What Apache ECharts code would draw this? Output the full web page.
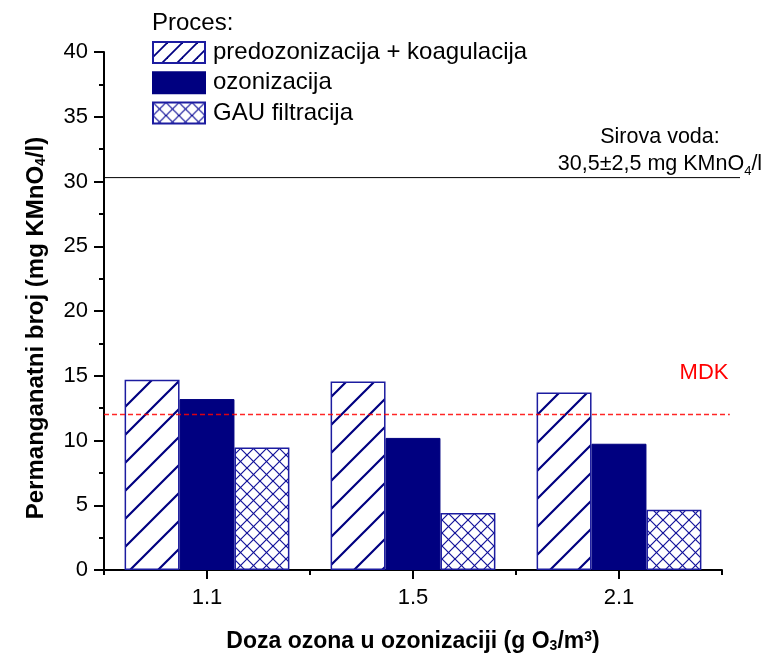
<!DOCTYPE html>
<html>
<head>
<meta charset="utf-8">
<script src="https://cdn.jsdelivr.net/npm/echarts@6/dist/echarts.min.js"></script>
<style>
html, body { margin: 0; padding: 0; background: #fff; }
#chart { width: 767px; height: 659px; }
</style>
</head>
<body>
<div id="chart"></div>
<script>
// Ozone dose categories (g O3/m3)
const categories = ['1.1', '1.5', '2.1'];
const seriesNames = ['predozonizacija + koagulacija', 'ozonizacija', 'GAU filtracija'];

// Permanganate index after each treatment step (mg KMnO4/l)
const predozonizacija = [14.7, 14.55, 13.7];
const ozonizacija = [13.2, 10.2, 9.75];
const gauFiltracija = [9.45, 4.4, 4.65];

// Y axis range
const yMin = 0, yMax = 40, yInterval = 5;

// Reference levels
const mdk = 12;          // maximum allowed concentration
const sirovaVoda = 30.3; // raw water

// Horizontal extent of the reference lines, as a fraction of the annotation layer
const sirovaSpan = [0, 1];
const mdkSpan = [0, 0.984];

const FONT = '"Liberation Sans", Arial, Helvetica, sans-serif';
const NAVY = '#000080';
const EDGE = '#1c1ca0';

// Tile with 45-degree hatch lines; "cross" adds the opposite diagonal as well
function hatchTile(size, lineWidth, color, cross) {
  const c = document.createElement('canvas');
  c.width = size;
  c.height = size;
  const ctx = c.getContext('2d');
  ctx.fillStyle = '#ffffff';
  ctx.fillRect(0, 0, size, size);
  ctx.strokeStyle = color;
  ctx.lineWidth = lineWidth;
  ctx.lineCap = 'square';
  for (let k = -1; k <= 1; k++) {
    ctx.beginPath();
    ctx.moveTo(k * size, size);
    ctx.lineTo(k * size + size, 0);
    ctx.stroke();
    if (cross) {
      ctx.beginPath();
      ctx.moveTo(k * size, 0);
      ctx.lineTo(k * size + size, size);
      ctx.stroke();
    }
  }
  return { image: c, repeat: 'repeat' };
}

const hatchBar = hatchTile(28, 2.2, NAVY, false);
const hatchLegend = hatchTile(15, 1.8, NAVY, false);
const crossBar = hatchTile(13, 1.2, '#12129a', true);
const crossLegend = hatchTile(13, 1.2, '#12129a', true);

const subRich = {
  sub: { fontSize: 13, fontFamily: FONT, verticalAlign: 'bottom', lineHeight: 4, color: '#000' },
  sup: { fontSize: 13, fontFamily: FONT, verticalAlign: 'top', lineHeight: 4, color: '#000' }
};
const subRichBold = {
  sub: { fontSize: 14, fontWeight: 'bold', fontFamily: FONT, verticalAlign: 'bottom', lineHeight: 4, color: '#000' },
  sup: { fontSize: 14, fontWeight: 'bold', fontFamily: FONT, verticalAlign: 'top', lineHeight: 4, color: '#000' }
};

const chart = echarts.init(document.getElementById('chart'), null, { renderer: 'canvas' });

const option = {
  backgroundColor: '#ffffff',
  animation: false,
  textStyle: { fontFamily: FONT },
  grid: [
    { left: 104, top: 52, width: 618, height: 518, containLabel: false },
    { left: 104, top: 52, width: 636, height: 518, containLabel: false }
  ],
  legend: {
    orient: 'vertical',
    left: 152,
    top: 40.5,
    padding: 0,
    itemWidth: 52,
    itemHeight: 21,
    itemGap: 6.25,
    icon: 'rect',
    selectedMode: false,
    data: [
      { name: seriesNames[0], itemStyle: { color: hatchLegend } },
      { name: seriesNames[1] },
      { name: seriesNames[2], itemStyle: { color: crossLegend } }
    ],
    textStyle: { fontSize: 24, lineHeight: 24, fontFamily: FONT, color: '#000', padding: [0, 0, 0, 3] }
  },
  xAxis: [
    {
      type: 'category',
      gridIndex: 0,
      data: categories,
      boundaryGap: true,
      axisLine: { show: true, lineStyle: { color: '#000', width: 2 } },
      axisTick: { show: true, alignWithLabel: true, length: 9, lineStyle: { color: '#000', width: 2 } },
      axisLabel: { fontSize: 22, fontFamily: FONT, color: '#000', margin: 17 },
      splitLine: { show: false },
      name: 'Doza ozona u ozonizaciji (g O{sub|3}/m{sup|3})',
      nameLocation: 'middle',
      nameGap: 60,
      nameTextStyle: { fontSize: 23, fontWeight: 'bold', fontFamily: FONT, color: '#000', rich: subRichBold }
    },
    {
      type: 'category',
      gridIndex: 0,
      data: categories,
      position: 'bottom',
      boundaryGap: true,
      axisLine: { show: false },
      axisTick: { show: true, alignWithLabel: false, length: 5, lineStyle: { color: '#000', width: 2 } },
      axisLabel: { show: false },
      splitLine: { show: false }
    },
    { type: 'value', gridIndex: 1, min: 0, max: 1, show: false }
  ],
  yAxis: [
    {
      type: 'value',
      gridIndex: 0,
      min: yMin,
      max: yMax,
      interval: yInterval,
      axisLine: { show: true, lineStyle: { color: '#000', width: 2 } },
      axisTick: { show: true, length: 10, lineStyle: { color: '#000', width: 2 } },
      minorTick: { show: true, splitNumber: 2, length: 5, lineStyle: { color: '#000', width: 2 } },
      axisLabel: { fontSize: 22, fontFamily: FONT, color: '#000', margin: 16 },
      splitLine: { show: false }
    },
    { type: 'value', gridIndex: 1, min: yMin, max: yMax, show: false }
  ],
  series: [
    {
      type: 'bar',
      name: seriesNames[0],
      xAxisIndex: 0, yAxisIndex: 0,
      data: predozonizacija,
      barGap: '0%',
      barCategoryGap: '20%',
      itemStyle: { color: hatchBar, borderColor: EDGE, borderWidth: 1.5 }
    },
    {
      type: 'bar',
      name: seriesNames[1],
      xAxisIndex: 0, yAxisIndex: 0,
      data: ozonizacija,
      barGap: '0%',
      barCategoryGap: '20%',
      itemStyle: { color: NAVY, borderColor: NAVY, borderWidth: 1 }
    },
    {
      type: 'bar',
      name: seriesNames[2],
      xAxisIndex: 0, yAxisIndex: 0,
      data: gauFiltracija,
      barGap: '0%',
      barCategoryGap: '20%',
      itemStyle: { color: crossBar, borderColor: EDGE, borderWidth: 1.5 }
    },
    {
      type: 'line',
      name: 'Sirova voda',
      xAxisIndex: 2, yAxisIndex: 1,
      data: sirovaSpan.map(x => [x, sirovaVoda]),
      symbol: 'none',
      silent: true,
      z: 5,
      lineStyle: { color: '#000', width: 1 }
    },
    {
      type: 'line',
      name: 'MDK',
      xAxisIndex: 2, yAxisIndex: 1,
      data: mdkSpan.map(x => [x, mdk]),
      symbol: 'none',
      silent: true,
      z: 5,
      lineStyle: { color: 'rgba(255,0,0,0.85)', width: 1.5, type: [5, 3] }
    }
  ],
  graphic: [
    {
      type: 'text', x: 152, y: 23, silent: true,
      style: { text: 'Proces:', fontSize: 24, fontFamily: FONT, fill: '#000', align: 'left', verticalAlign: 'middle' }
    },
    {
      type: 'text', x: 704, y: 373, silent: true,
      style: { text: 'MDK', fontSize: 22, fontFamily: FONT, fill: '#ff0000', align: 'center', verticalAlign: 'middle' }
    },
    {
      type: 'text', x: 660, y: 151, silent: true,
      style: {
        text: 'Sirova voda:\n30,5±2,5 mg KMnO{sub|4}/l',
        fontSize: 21.5, fontFamily: FONT, fill: '#000', lineHeight: 27,
        align: 'center', verticalAlign: 'middle', rich: subRich
      }
    },
    {
      type: 'text', x: 36, y: 328, rotation: Math.PI / 2, silent: true,
      style: {
        text: 'Permanganatni broj (mg KMnO{sub|4}/l)',
        fontSize: 24, fontWeight: 'bold', fontFamily: FONT, fill: '#000',
        align: 'center', verticalAlign: 'middle', rich: subRichBold
      }
    }
  ]
};

chart.setOption(option);
</script>
</body>
</html>
